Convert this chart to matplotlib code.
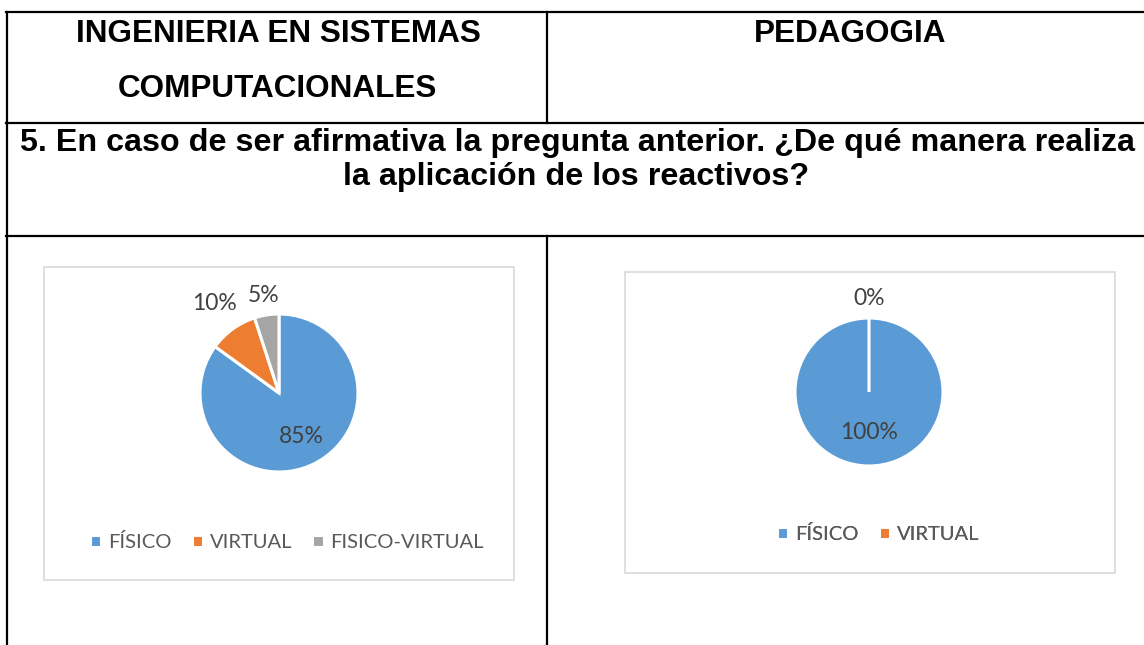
import math
import matplotlib.pyplot as plt
from matplotlib.patches import Rectangle

# data
isc_labels = ['FÍSICO', 'VIRTUAL', 'FISICO-VIRTUAL']
isc_values = [85, 10, 5]
ped_labels = ['FÍSICO', 'VIRTUAL']
ped_values = [100, 0]
colors = ['#5b9bd5', '#ed7d31', '#a5a5a5']

header_left = ['INGENIERIA EN SISTEMAS', 'COMPUTACIONALES']
header_right = 'PEDAGOGIA'
question = ['5. En caso de ser afirmativa la pregunta anterior. ¿De qué manera realiza',
            'la aplicación de los reactivos?']

W, H = 1144, 645
fig = plt.figure(figsize=(W / 100, H / 100), dpi=100)
ax = fig.add_axes([0, 0, 1, 1])


def py(y):
    # pixel row (from top) to data y
    return H - y


# table lines
lw = 1.6
ax.plot([6, W], [py(12), py(12)], color='black', lw=lw)
ax.plot([6, W], [py(123), py(123)], color='black', lw=lw)
ax.plot([6, W], [py(235.5), py(235.5)], color='black', lw=lw)
ax.plot([6.5, 6.5], [py(12), 0], color='black', lw=lw)
ax.plot([547, 547], [py(12), py(123)], color='black', lw=lw)
ax.plot([547, 547], [py(235.5), 0], color='black', lw=lw)

hfont = dict(family='Liberation Sans', weight='bold', fontsize=22.7, color='black')
qfont = dict(family='Liberation Sans', weight='bold', fontsize=23.2, color='black')
ax.text(278, py(42), header_left[0], ha='center', va='baseline', **hfont)
ax.text(277, py(97), header_left[1], ha='center', va='baseline', **hfont)
ax.text(850, py(42), header_right, ha='center', va='baseline', **hfont)
ax.text(578, py(151), question[0], ha='center', va='baseline', **qfont)
ax.text(576, py(185), question[1], ha='center', va='baseline', **qfont)

# chart boxes
ax.add_patch(Rectangle((44, py(580)), 470, 313, fill=False, edgecolor='#d9d9d9', lw=1.2))
ax.add_patch(Rectangle((625, py(573)), 490, 301, fill=False, edgecolor='#d9d9d9', lw=1.2))

lab_font = dict(family='Lato', fontsize=16.5, color='#404040')


def draw_pie(values, labels, center, radius, dists, leg_center):
    wedges, _ = ax.pie(values, colors=colors[:len(values)], startangle=90, counterclock=False,
                       center=center, radius=radius,
                       wedgeprops=dict(edgecolor='white', linewidth=2.2))
    total = sum(values)
    for w, v, d in zip(wedges, values, dists):
        mid = math.radians((w.theta1 + w.theta2) / 2)
        x = center[0] + d * radius * math.cos(mid)
        y = center[1] + d * radius * math.sin(mid)
        ax.text(x, y, f'{round(100 * v / total)}%', ha='center', va='center', **lab_font)
    leg = ax.legend(wedges, labels, loc='center', bbox_to_anchor=leg_center,
                    bbox_transform=ax.transData, ncol=len(labels), frameon=False,
                    handlelength=0.55, handleheight=0.55, handletextpad=0.35,
                    columnspacing=1.0, prop=dict(family='Lato', size=14.5))
    for t in leg.get_texts():
        t.set_color('#595959')
    ax.add_artist(leg)


draw_pie(isc_values, isc_labels, (279, py(393)), 79, [0.62, 1.4, 1.25], (287, py(542)))
draw_pie(ped_values, ped_labels, (869, py(392)), 74, [0.55, 1.27], (878, py(534)))

ax.set_xlim(0, W)
ax.set_ylim(0, H)
ax.set_aspect('auto')
ax.axis('off')

fig.savefig('out.png', dpi=100)
